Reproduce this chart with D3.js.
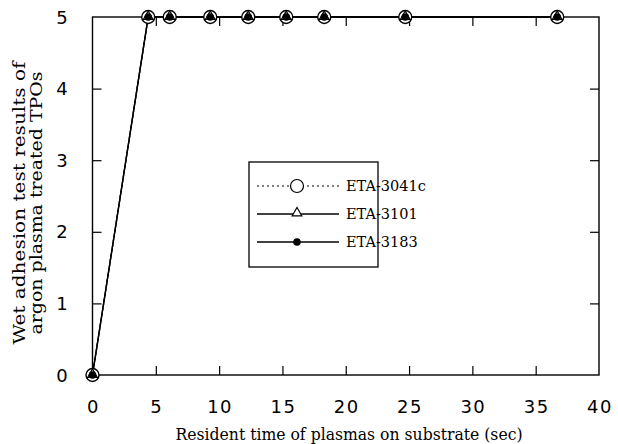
<!DOCTYPE html>
<html><head><meta charset="utf-8">
<script src="https://cdn.jsdelivr.net/npm/d3@7"></script>
<style>body{margin:0;background:#fff}</style>
</head><body>
<svg id="c" width="618" height="444"></svg>
<script>
const times = [0, 4.4, 6.1, 9.3, 12.3, 15.3, 18.3, 24.7, 36.7];
const eta3041c = [0, 5, 5, 5, 5, 5, 5, 5, 5];
const eta3101 = [0, 5, 5, 5, 5, 5, 5, 5, 5];
const eta3183 = [0, 5, 5, 5, 5, 5, 5, 5, 5];
const seriesNames = ["ETA-3041c", "ETA-3101", "ETA-3183"];
const xTicks = [0, 5, 10, 15, 20, 25, 30, 35, 40];
const yTicks = [0, 1, 2, 3, 4, 5];

const svg = d3.select("#c");
const L = 92.5, R = 599, T = 17, B = 375;
const x = d3.scaleLinear().domain([0, 40]).range([L, R]);
const y = d3.scaleLinear().domain([0, 5]).range([B, T]);
const sans = "'DejaVu Sans', sans-serif";
const serif = "'DejaVu Serif', serif";

svg.append("rect").attr("x", L).attr("y", T).attr("width", R - L).attr("height", B - T)
  .attr("fill", "none").attr("stroke", "#000").attr("stroke-width", 1.4);

const tl = 9;
const inner = xTicks.filter(d => d > 0 && d < 40);
const innerY = yTicks.filter(d => d > 0 && d < 5);
const style = g => { g.select(".domain").remove(); g.selectAll("line").attr("stroke-width", 1.2); };
svg.append("g").attr("transform", `translate(0,${B})`)
  .call(d3.axisBottom(x).tickValues(inner).tickSize(-tl).tickFormat("")).call(style);
svg.append("g").attr("transform", `translate(0,${T})`)
  .call(d3.axisTop(x).tickValues(inner).tickSize(-tl).tickFormat("")).call(style);
svg.append("g").attr("transform", `translate(${L},0)`)
  .call(d3.axisLeft(y).tickValues(innerY).tickSize(-tl).tickFormat("")).call(style);
svg.append("g").attr("transform", `translate(${R},0)`)
  .call(d3.axisRight(y).tickValues(innerY).tickSize(-tl).tickFormat("")).call(style);

// tick labels
svg.append("g").selectAll("text").data(xTicks).join("text")
  .attr("x", d => x(d) + 1).attr("y", 413).attr("text-anchor", "middle")
  .attr("font-family", sans).attr("font-size", 18).attr("letter-spacing", 1.5).text(d => d);
svg.append("g").selectAll("text").data(yTicks).join("text")
  .attr("x", 62).attr("y", d => y(d) + 6.5).attr("text-anchor", "middle")
  .attr("font-family", sans).attr("font-size", 18).text(d => d);

// axis titles
svg.append("text").attr("x", 349).attr("y", 440).attr("text-anchor", "middle")
  .attr("font-family", serif).attr("font-size", 16)
  .attr("textLength", 347).attr("lengthAdjust", "spacingAndGlyphs")
  .text("Resident time of plasmas on substrate (sec)");
const yt = svg.append("g").attr("transform", "translate(0,203) rotate(-90)");
yt.append("text").attr("x", 0).attr("y", 25).attr("text-anchor", "middle")
  .attr("font-family", serif).attr("font-size", 16)
  .attr("textLength", 283).attr("lengthAdjust", "spacingAndGlyphs")
  .text("Wet adhesion test results of");
yt.append("text").attr("x", 0).attr("y", 42).attr("text-anchor", "middle")
  .attr("font-family", serif).attr("font-size", 16)
  .attr("textLength", 263).attr("lengthAdjust", "spacingAndGlyphs")
  .text("argon plasma treated TPOs");

// series
const line = d3.line().x((d, i) => x(times[i])).y(d => y(d));
svg.append("path").datum(eta3183).attr("d", line).attr("fill", "none").attr("stroke", "#000").attr("stroke-width", 1.4);
svg.append("path").datum(eta3101).attr("d", line).attr("fill", "none").attr("stroke", "#000").attr("stroke-width", 1.4);
svg.append("path").datum(eta3041c).attr("d", line).attr("fill", "none").attr("stroke", "#000").attr("stroke-width", 1.2).attr("stroke-dasharray", "2,3");

const tri = d3.symbol().type(d3.symbolTriangle).size(40);
svg.append("g").selectAll("circle").data(eta3041c).join("circle")
  .attr("cx", (d, i) => x(times[i])).attr("cy", d => y(d)).attr("r", 6.5)
  .attr("fill", "#fff").attr("stroke", "#000").attr("stroke-width", 1.4);
svg.append("g").selectAll("path").data(eta3101).join("path")
  .attr("d", tri).attr("transform", (d, i) => `translate(${x(times[i])},${y(d) - 0.5})`)
  .attr("fill", "#fff").attr("stroke", "#000").attr("stroke-width", 1.2);
svg.append("g").selectAll("circle").data(eta3183).join("circle")
  .attr("cx", (d, i) => x(times[i])).attr("cy", d => y(d)).attr("r", 3.8).attr("fill", "#000");

// legend
const lg = svg.append("g");
lg.append("rect").attr("x", 249).attr("y", 162).attr("width", 129).attr("height", 105)
  .attr("fill", "#fff").attr("stroke", "#000").attr("stroke-width", 1.3);
const rows = [186, 214, 242];
seriesNames.forEach((name, i) => {
  const yy = rows[i];
  lg.append("line").attr("x1", 257).attr("x2", 339).attr("y1", yy).attr("y2", yy)
    .attr("stroke", "#000").attr("stroke-width", i === 0 ? 1 : 1.3)
    .attr("stroke-dasharray", i === 0 ? "2,3" : null);
  if (i === 0) lg.append("circle").attr("cx", 297).attr("cy", yy).attr("r", 6.5)
    .attr("fill", "#fff").attr("stroke", "#000").attr("stroke-width", 1.2);
  if (i === 1) lg.append("path").attr("d", tri).attr("transform", `translate(297,${yy - 1})`)
    .attr("fill", "#fff").attr("stroke", "#000").attr("stroke-width", 1.2);
  if (i === 2) lg.append("circle").attr("cx", 297).attr("cy", yy).attr("r", 3.8).attr("fill", "#000");
  lg.append("text").attr("x", 346).attr("y", yy + 5).attr("font-family", serif).attr("font-size", 14.5)
    .text(name);
});
</script>
</body></html>
